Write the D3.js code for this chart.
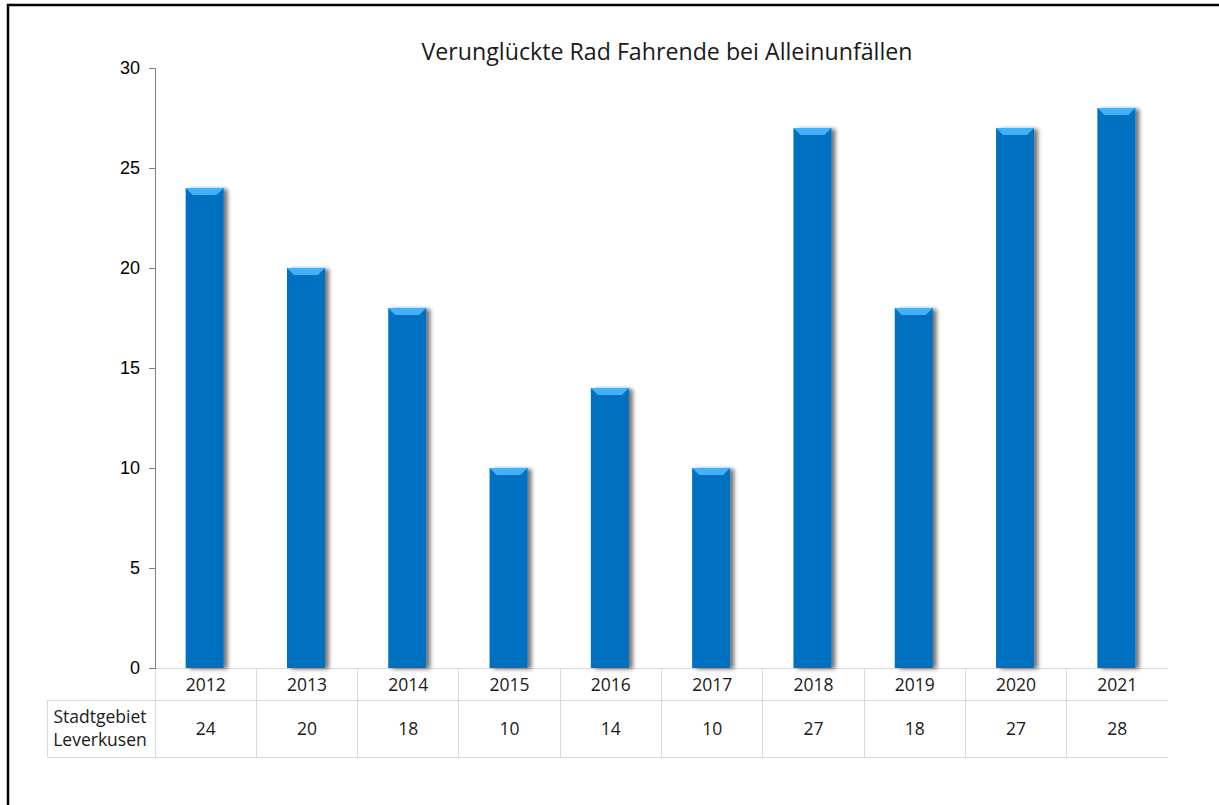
<!DOCTYPE html>
<html lang="de">
<head>
<meta charset="utf-8">
<title>Verunglückte Rad Fahrende bei Alleinunfällen</title>
<script src="https://cdn.jsdelivr.net/npm/d3@7/dist/d3.min.js"></script>
<style>
  body { margin: 0; background: #fff; }
  .axis path, .axis line { stroke: #7f7f7f; stroke-width: 1; shape-rendering: crispEdges; }
  .axis text { font-family: "Liberation Sans", Arial, sans-serif; font-size: 18px; fill: #000; }
  .tbl line { stroke: #d9d9d9; stroke-width: 1; shape-rendering: crispEdges; }
  .tbl text { font-family: "Open Sans", sans-serif; font-size: 17.5px; fill: #1a1a1a; }
  .title { font-family: "Open Sans", sans-serif; font-size: 23.2px; fill: #1a1a1a; }
</style>
</head>
<body>
<script>
// data
var years = ["2012", "2013", "2014", "2015", "2016", "2017", "2018", "2019", "2020", "2021"];
var values = [24, 20, 18, 10, 14, 10, 27, 18, 27, 28];
var yTicks = [0, 5, 10, 15, 20, 25, 30];
var seriesName = ["Stadtgebiet", "Leverkusen"];
var title = "Verunglückte Rad Fahrende bei Alleinunfällen";

var w = 1219, h = 805;
var mLeft = 155, mRight = 1168, mTop = 68, mBottom = 668;

var svg = d3.select("body").append("svg")
  .attr("width", w)
  .attr("height", h);

// outer frame
svg.append("rect")
  .attr("x", 8).attr("y", 5)
  .attr("width", w).attr("height", h)
  .attr("fill", "none")
  .attr("stroke", "#000")
  .attr("stroke-width", 2.5);

// soft shadow on the right of each bar
var defs = svg.append("defs");
var flt = defs.append("filter").attr("id", "shadow")
  .attr("x", "-30%").attr("y", "-10%").attr("width", "160%").attr("height", "120%");
flt.append("feGaussianBlur").attr("in", "SourceAlpha").attr("stdDeviation", 2.2).attr("result", "b");
flt.append("feOffset").attr("in", "b").attr("dx", 4).attr("dy", 1).attr("result", "o");
flt.append("feComponentTransfer").attr("in", "o").attr("result", "s")
  .append("feFuncA").attr("type", "linear").attr("slope", 0.55);
var merge = flt.append("feMerge");
merge.append("feMergeNode").attr("in", "s");
merge.append("feMergeNode").attr("in", "SourceGraphic");

var x = d3.scaleBand()
  .domain(years)
  .range([mLeft, mRight])
  .padding(0);

var y = d3.scaleLinear()
  .domain([0, 30])
  .range([mBottom, mTop]);

// title
svg.append("text")
  .attr("class", "title")
  .attr("x", 667)
  .attr("y", 60)
  .attr("text-anchor", "middle")
  .text(title);

// data table grid (drawn first so the bars sit on top)
var tbl = svg.append("g").attr("class", "tbl");
var r1 = 700, r2 = 757, tblLeft = 47;

tbl.append("line").attr("x1", mLeft).attr("x2", mRight).attr("y1", mBottom + 0.5).attr("y2", mBottom + 0.5);
tbl.append("line").attr("x1", tblLeft).attr("x2", mRight).attr("y1", r1).attr("y2", r1);
tbl.append("line").attr("x1", tblLeft).attr("x2", mRight).attr("y1", r2).attr("y2", r2);
tbl.append("line").attr("x1", tblLeft).attr("x2", tblLeft).attr("y1", r1).attr("y2", r2);

tbl.selectAll("line.v")
  .data(years)
  .enter().append("line")
  .attr("class", "v")
  .attr("x1", function(d) { return x(d); })
  .attr("x2", function(d) { return x(d); })
  .attr("y1", mBottom)
  .attr("y2", r2);

tbl.selectAll("text.yr")
  .data(years)
  .enter().append("text")
  .attr("class", "yr")
  .attr("x", function(d) { return x(d) + x.bandwidth() / 2; })
  .attr("y", 691)
  .attr("text-anchor", "middle")
  .text(function(d) { return d; });

tbl.selectAll("text.val")
  .data(values)
  .enter().append("text")
  .attr("class", "val")
  .attr("x", function(d, i) { return x(years[i]) + x.bandwidth() / 2; })
  .attr("y", 735)
  .attr("text-anchor", "middle")
  .text(function(d) { return d; });

tbl.selectAll("text.name")
  .data(seriesName)
  .enter().append("text")
  .attr("class", "name")
  .attr("x", 100)
  .attr("y", function(d, i) { return 723 + i * 23; })
  .attr("text-anchor", "middle")
  .text(function(d) { return d; });

// y axis
svg.append("g")
  .attr("class", "axis")
  .attr("transform", "translate(" + mLeft + ",0)")
  .call(d3.axisLeft(y).tickValues(yTicks).tickSize(6).tickSizeOuter(6).tickPadding(9));

// bars
var barW = 38;
var bars = svg.append("g").selectAll("g.bar")
  .data(values)
  .enter().append("g")
  .attr("class", "bar");

bars.append("rect")
  .attr("x", function(d, i) { return x(years[i]) + x.bandwidth() / 2 - barW / 2 - 1; })
  .attr("y", function(d) { return y(d); })
  .attr("width", barW)
  .attr("height", function(d) { return y(0) - y(d); })
  .attr("fill", "#0070c0")
  .attr("filter", "url(#shadow)");

// bevel on top
var bev = 7;
bars.append("path")
  .attr("d", function(d, i) {
    var x0 = x(years[i]) + x.bandwidth() / 2 - barW / 2 - 1;
    var y0 = y(d);
    return "M" + x0 + "," + y0 + "L" + (x0 + barW) + "," + y0 +
      "L" + (x0 + barW - bev) + "," + (y0 + bev) + "L" + (x0 + bev) + "," + (y0 + bev) + "Z";
  })
  .attr("fill", "#45b0f5");
</script>
</body>
</html>
